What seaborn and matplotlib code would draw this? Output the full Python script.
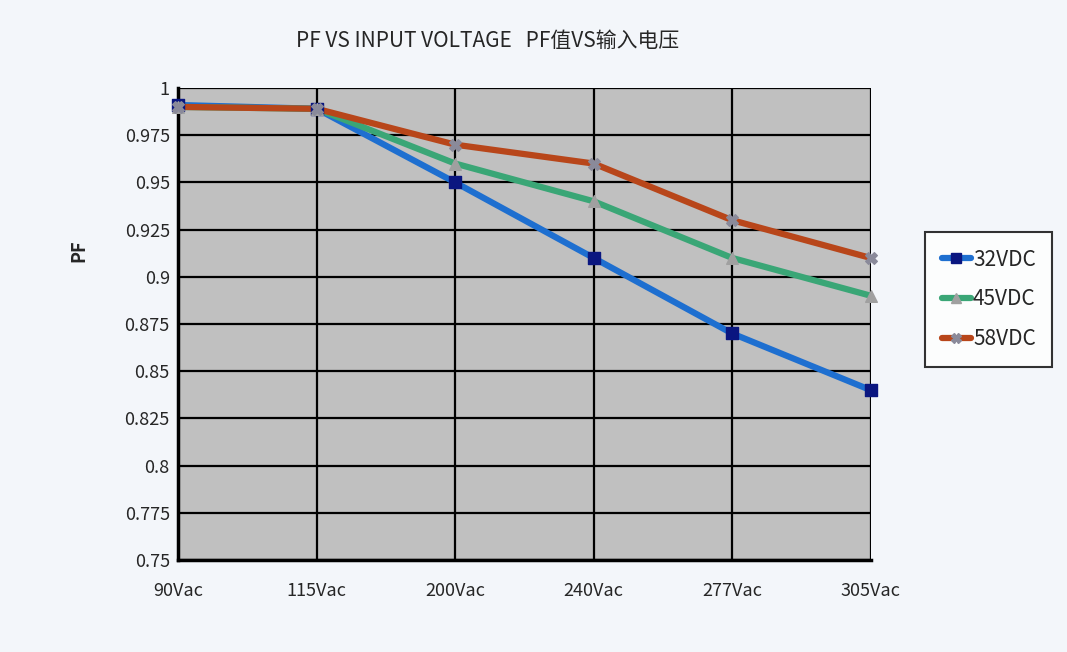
import numpy as np
import pandas as pd
import matplotlib
matplotlib.use('Agg')
import matplotlib.pyplot as plt
import seaborn as sns

voltages = ['90Vac', '115Vac', '200Vac', '240Vac', '277Vac', '305Vac']
pf_32 = [0.991, 0.989, 0.95, 0.91, 0.87, 0.84]
pf_45 = [0.99, 0.989, 0.96, 0.94, 0.91, 0.89]
pf_58 = [0.99, 0.989, 0.97, 0.96, 0.93, 0.91]
series = ['32VDC', '45VDC', '58VDC']
yticks = [0.75, 0.775, 0.8, 0.825, 0.85, 0.875, 0.9, 0.925, 0.95, 0.975, 1]
ytick_labels = ['0.75', '0.775', '0.8', '0.825', '0.85', '0.875', '0.9', '0.925', '0.95', '0.975', '1']

df = pd.DataFrame({
    'voltage': voltages * 3,
    'pos': list(range(len(voltages))) * 3,
    'pf': pf_32 + pf_45 + pf_58,
    'series': [s for s in series for _ in voltages],
})

sns.set_theme(style='white')
plt.rcParams['font.family'] = ['Noto Sans CJK SC', 'DejaVu Sans']

fig = plt.figure(figsize=(10.67, 6.52), dpi=100)
fig.patch.set_facecolor('#f3f6fa')
ax = fig.add_axes([0.167, 0.141, 0.649, 0.724])
ax.set_facecolor('#c0c0c0')

palette = {'32VDC': '#1e6fd0', '45VDC': '#3aa676', '58VDC': '#b8461a'}
markers = {'32VDC': 's', '45VDC': '^', '58VDC': 'X'}
mcolors = {'32VDC': '#0a1680', '45VDC': '#a0a0a0', '58VDC': '#8a8a9a'}

sns.lineplot(data=df, x='pos', y='pf', hue='series', palette=palette,
             linewidth=4.5, legend=False, ax=ax, zorder=3)
for s in series:
    sub = df[df['series'] == s]
    ax.scatter(sub['pos'], sub['pf'], marker=markers[s], s=70,
               color=mcolors[s], zorder=4, clip_on=False)

ax.set_xlim(0, len(voltages) - 1)
ax.set_ylim(0.75, 1)
ax.set_xticks(range(len(voltages)))
ax.set_xticklabels(voltages, fontsize=13)
ax.set_yticks(yticks)
ax.set_yticklabels(ytick_labels, fontsize=13)
ax.tick_params(axis='x', pad=16, length=0)
ax.tick_params(axis='y', pad=6, length=0)
ax.grid(True, color='black', linewidth=1.6)
for side in ['left', 'bottom']:
    ax.spines[side].set_color('black')
    ax.spines[side].set_linewidth(2.5)
for side in ['top', 'right']:
    ax.spines[side].set_visible(False)

ax.set_xlabel('')
ax.set_ylabel('PF', fontsize=13, fontweight='bold')
ax.yaxis.set_label_coords(-0.13, 0.655)
fig.text(0.457, 0.937, 'PF VS INPUT VOLTAGE   PF值VS输入电压', ha='center', va='center', fontsize=15)

handles = [plt.Line2D([0], [0], color=palette[s], lw=4.5, marker=markers[s],
                      markersize=7, markerfacecolor=mcolors[s], markeredgecolor=mcolors[s])
           for s in series]
leg = fig.legend(handles, series, loc='upper left', bbox_to_anchor=(0.867, 0.644),
                 borderaxespad=0, frameon=True, fontsize=15, handlelength=1.4,
                 handletextpad=0.1, labelspacing=0.85, borderpad=0.8, fancybox=False)
leg.get_frame().set_edgecolor('black')
leg.get_frame().set_linewidth(1.5)
leg.get_frame().set_facecolor('white')

fig.savefig('out.png', dpi=100, facecolor=fig.get_facecolor())
